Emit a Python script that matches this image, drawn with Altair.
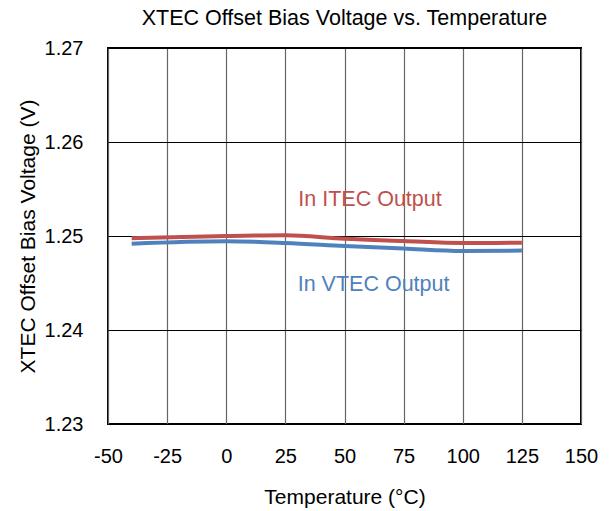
import altair as alt
import pandas as pd

temps = [-40, 0, 25, 50, 75, 100, 125]
itec = [1.24976, 1.25000, 1.25007, 1.24970, 1.24947, 1.24926, 1.24928]
vtec = [1.24918, 1.24944, 1.24926, 1.24894, 1.24866, 1.24840, 1.24845]
series_names = ["In ITEC Output", "In VTEC Output"]
colors = ["#C0504D", "#4F81BD"]
label_x = [60.8, 62.3]
label_y = [1.25319, 1.24415]

rows = []
for name, vals in zip(series_names, [itec, vtec]):
    for t, v in zip(temps, vals):
        rows.append({"T": t, "V": v, "series": name})
df = pd.DataFrame(rows)
lab = pd.DataFrame({"x": label_x, "y": label_y, "series": series_names})

font = "Liberation Sans"
xs = alt.Scale(domain=[-50, 150], nice=False)
ys = alt.Scale(domain=[1.23, 1.27], nice=False, zero=False)
cs = alt.Scale(domain=series_names, range=colors)

lines = alt.Chart(df).mark_line(strokeWidth=4, interpolate="monotone").encode(
    x=alt.X("T:Q", scale=xs, axis=alt.Axis(values=list(range(-50, 151, 25)), title="Temperature (°C)",
                                            labelExpr="'' + datum.value", labelFlush=False,
                                            labelOverlap=False,
                                            labelPadding=22, titlePadding=20,
                                            gridColor="#666666", gridWidth=1.2)),
    y=alt.Y("V:Q", scale=ys, axis=alt.Axis(values=[1.23, 1.24, 1.25, 1.26, 1.27], format=".2f",
                                            labelFlush=False,
                                            title="XTEC Offset Bias Voltage (V)", labelPadding=25,
                                            titlePadding=6, gridColor="#000000", gridWidth=1)),
    color=alt.Color("series:N", scale=cs, legend=None),
)

texts = alt.Chart(lab).mark_text(fontSize=21.5, font=font, baseline="alphabetic").encode(
    x=alt.X("x:Q", scale=xs),
    y=alt.Y("y:Q", scale=ys),
    text="series:N",
    color=alt.Color("series:N", scale=cs, legend=None),
)

chart = (lines + texts).properties(
    width=473, height=376,
    title=alt.Title("XTEC Offset Bias Voltage vs. Temperature", font=font, fontSize=21.5,
                    fontWeight="normal", color="black", offset=9),
    autosize=alt.AutoSizeParams(type="none"),
    padding={"left": 100, "top": 40, "right": 21, "bottom": 87},
).configure_view(stroke="black", strokeWidth=2).configure_axis(
    labelFont=font, titleFont=font, labelFontSize=20, titleFontSize=21,
    labelColor="black", titleColor="black", titleFontWeight="normal",
    grid=True, domain=False, ticks=False,
)

chart.save("out.html", embed_options={"renderer": "svg", "actions": False})
